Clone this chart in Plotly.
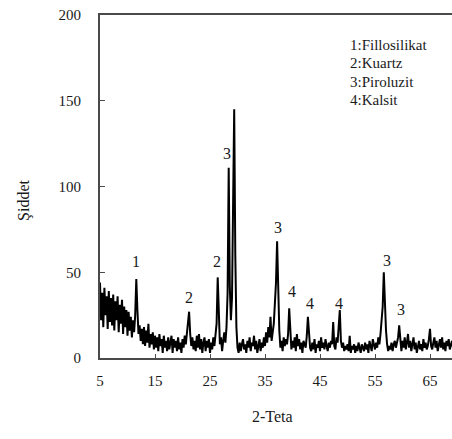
import numpy as np
import plotly.graph_objects as go

# XRD scan: 2-theta from 5.0 to 69.8 in 0.2 degree steps
scan_start = 5.0
scan_step = 0.2
intensity = [
    44, 22, 38, 18, 41, 25, 36, 17, 39, 21,   # 5.0 - 6.8
    35, 19, 37, 16, 33, 22, 36, 15, 31, 20,   # 7.0 - 8.8
    34, 14, 30, 18, 28, 13, 27, 16, 24, 12,   # 9.0 - 10.8
    22, 15, 25, 46, 28, 14, 19, 10, 17, 8,    # 11.0 - 12.8
    18, 7, 16, 9, 20, 6, 14, 8, 15, 5,        # 13.0 - 14.8
    13, 6, 12, 4, 14, 7, 11, 3, 13, 6,        # 15.0 - 16.8
    10, 4, 12, 5, 9, 13, 3, 11, 6, 10,        # 17.0 - 18.8
    4, 12, 5, 9, 3, 11, 6, 13, 8, 15,         # 19.0 - 20.8
    19, 27, 14, 7, 12, 5, 10, 4, 13, 6,       # 21.0 - 22.8
    14, 5, 11, 3, 9, 12, 4, 10, 6, 11,        # 23.0 - 24.8
    3, 9, 5, 12, 7, 14, 20, 47, 18, 8,        # 25.0 - 26.8
    12, 4, 10, 15, 9, 18, 38, 111, 42, 22,    # 27.0 - 28.8
    35, 78, 145, 60, 18, 6, 3, 9, 4, 8,       # 29.0 - 30.8
    11, 5, 8, 3, 10, 6, 12, 4, 9, 7,          # 31.0 - 32.8
    13, 5, 10, 3, 8, 11, 4, 9, 6, 12,         # 33.0 - 34.8
    7, 15, 9, 18, 12, 24, 10, 14, 20, 32,     # 35.0 - 36.8
    44, 68, 36, 16, 6, 10, 4, 12, 7, 11,      # 37.0 - 38.8
    8, 14, 29, 13, 5, 10, 6, 12, 4, 14,       # 39.0 - 40.8
    7, 11, 5, 9, 3, 10, 8, 6, 13, 24,         # 41.0 - 42.8
    15, 6, 4, 9, 5, 11, 3, 8, 6, 10,          # 43.0 - 44.8
    4, 12, 6, 9, 5, 11, 7, 4, 9, 6,           # 45.0 - 46.8
    10, 8, 21, 7, 5, 12, 9, 20, 28, 10,       # 47.0 - 48.8
    6, 9, 4, 7, 5, 8, 4, 13, 3, 7,            # 49.0 - 50.8
    5, 8, 3, 7, 4, 9, 6, 3, 8, 5,             # 51.0 - 52.8
    4, 9, 5, 8, 3, 10, 6, 4, 11, 7,           # 53.0 - 54.8
    5, 9, 6, 12, 8, 14, 22, 30, 50, 28,       # 55.0 - 56.8
    16, 8, 4, 7, 5, 9, 4, 8, 10, 6,           # 57.0 - 58.8
    9, 12, 19, 8, 4, 10, 6, 12, 5, 9,         # 59.0 - 60.8
    14, 6, 10, 4, 8, 12, 5, 9, 3, 7,          # 61.0 - 62.8
    10, 5, 8, 4, 11, 6, 9, 5, 7, 11,          # 63.0 - 64.8
    17, 7, 5, 9, 12, 6, 10, 4, 8, 11,         # 65.0 - 66.8
    6, 12, 5, 9, 4, 10, 7, 11, 5, 8,          # 67.0 - 68.8
    10, 6, 9, 5, 8,                           # 69.0 - 69.8
]
two_theta = np.round(scan_start + scan_step * np.arange(len(intensity)), 1)

# Phase labels over the peaks
peak_pos = [11.6, 21.1, 26.2, 28.0, 37.3, 39.9, 43.2, 48.5, 57.1, 59.7]
peak_lab_y = [56, 35.5, 56, 119.5, 76, 38.5, 32, 32, 57, 28.5]
peak_text = ["1", "2", "2", "3", "3", "4", "4", "4", "3", "3"]

phase_legend = ["1:Fillosilikat", "2:Kuartz", "3:Piroluzit", "4:Kalsit"]

x_ticks = [5, 15, 25, 35, 45, 55, 65]
y_ticks = [0, 50, 100, 150, 200]

FONT = "Liberation Serif"
TXT = "#1a1a1a"
AXIS = "#4a4a4a"

fig = go.Figure()
fig.add_trace(go.Scatter(
    x=two_theta, y=intensity, mode="lines",
    line=dict(color="#000000", width=2),
    hoverinfo="skip", showlegend=False,
))

ann = []
for px, py, t in zip(peak_pos, peak_lab_y, peak_text):
    ann.append(dict(x=px, y=py, xref="x", yref="y", text=t, showarrow=False,
                    font=dict(family=FONT, size=16, color=TXT)))

legend_y = [0.913, 0.860, 0.805, 0.752]
for ly, t in zip(legend_y, phase_legend):
    ann.append(dict(x=0.705, y=ly, xref="paper", yref="paper", text=t,
                    showarrow=False, xanchor="left", yanchor="middle",
                    font=dict(family=FONT, size=15, color=TXT)))

ann.append(dict(x=0.49, y=-0.172, xref="paper", yref="paper", text="2-Teta",
                showarrow=False, xanchor="center", yanchor="middle",
                font=dict(family=FONT, size=16, color=TXT)))
ann.append(dict(x=-0.214, y=0.46, xref="paper", yref="paper", text="Şiddet",
                showarrow=False, textangle=-90, xanchor="center", yanchor="middle",
                font=dict(family=FONT, size=16, color=TXT)))

fig.update_layout(
    width=452, height=439,
    margin=dict(l=100, r=0, t=15, b=81),
    paper_bgcolor="white", plot_bgcolor="white",
    font=dict(family=FONT, size=15, color=TXT),
    annotations=ann,
    showlegend=False,
)
fig.update_xaxes(
    range=[5, 69], tickvals=x_ticks, ticktext=[str(v) for v in x_ticks],
    showgrid=False, zeroline=False,
    showline=True, linecolor=AXIS, linewidth=2, mirror=True,
    ticks="inside", ticklen=4, tickcolor=AXIS,
    tickfont=dict(family=FONT, size=15, color=TXT), ticklabelstandoff=8,
)
fig.update_yaxes(
    range=[0, 200], tickvals=y_ticks, ticktext=[str(v) for v in y_ticks],
    showgrid=False, zeroline=False,
    showline=True, linecolor=AXIS, linewidth=2,
    ticks="inside", ticklen=5, tickcolor=AXIS,
    tickfont=dict(family=FONT, size=15, color=TXT), ticklabelstandoff=14,
)

fig.write_html("out.html")
